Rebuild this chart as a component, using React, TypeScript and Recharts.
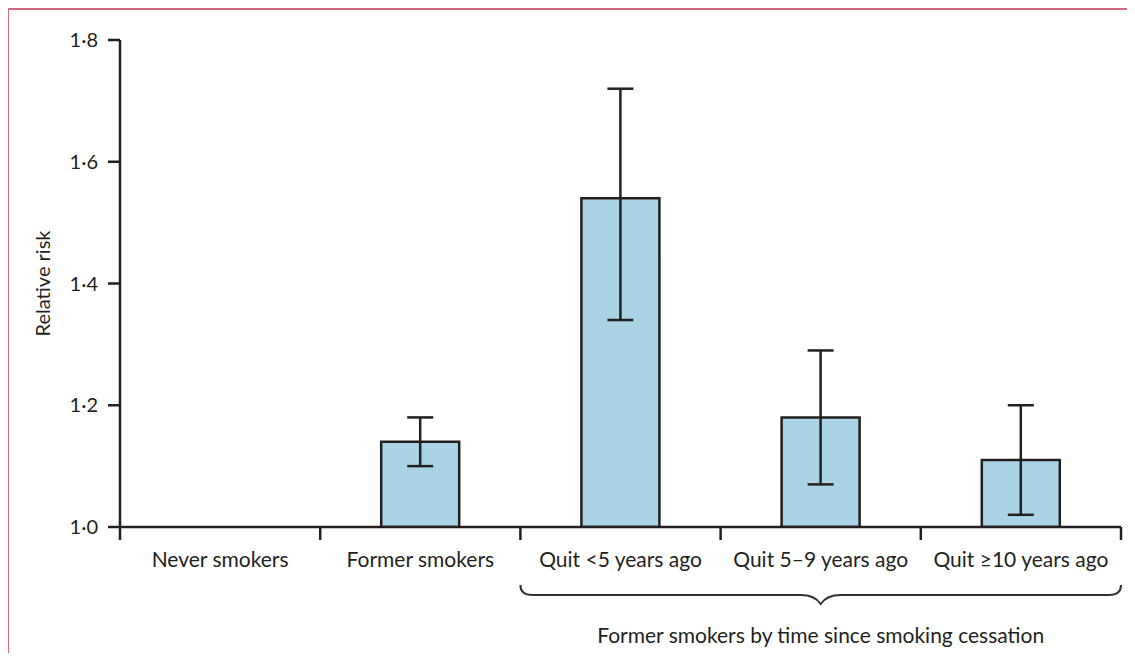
import {
  ComposedChart,
  Bar,
  ErrorBar,
  XAxis,
  YAxis,
  Label,
  ReferenceArea,
} from "recharts";

const categories = [
  "Never smokers",
  "Former smokers",
  "Quit <5 years ago",
  "Quit 5–9 years ago",
  "Quit ≥10 years ago",
];
const relativeRisk = [1.0, 1.14, 1.54, 1.18, 1.11];
const ciLow = [null, 1.1, 1.34, 1.07, 1.02];
const ciHigh = [null, 1.18, 1.72, 1.29, 1.2];
const yTicks = [1.0, 1.2, 1.4, 1.6, 1.8];
const groupLabel = "Former smokers by time since smoking cessation";

const data = categories.map((name, i) => ({
  name,
  rr: relativeRisk[i],
  ci:
    ciLow[i] == null
      ? null
      : [relativeRisk[i] - (ciLow[i] as number), (ciHigh[i] as number) - relativeRisk[i]],
}));

const W = 1135;
const H = 661;
const MARGIN = { top: 40, right: 14, bottom: 104, left: 40 };
const Y_AXIS_W = 80;
const BAND = (W - MARGIN.left - Y_AXIS_W - MARGIN.right) / categories.length;
const TICK_SIZE = 13;
const TICK_MARGIN = 9;
const INK = "#231f20";
const FONT = "Lato, 'Open Sans', sans-serif";
const FONT_SIZE = 21;

const fmt = (v: number) => v.toFixed(1).replace(".", "·");

// category label plus the boundary ticks between groups
function CategoryTick(props: any) {
  const { x, y, payload, index } = props;
  const axisY = y - TICK_SIZE - TICK_MARGIN;
  const left = x - BAND / 2;
  const right = x + BAND / 2;
  return (
    <g>
      <line x1={left} x2={left} y1={axisY} y2={axisY + TICK_SIZE} stroke={INK} strokeWidth={2.5} />
      {index === categories.length - 1 && (
        <line x1={right} x2={right} y1={axisY} y2={axisY + TICK_SIZE} stroke={INK} strokeWidth={2.5} />
      )}
      <text x={x} y={y + 18} textAnchor="middle" fill={INK} fontSize={FONT_SIZE} fontFamily={FONT}>
        {payload.value}
      </text>
    </g>
  );
}

// curly brace under the "quit" groups
function Brace(props: any) {
  const { x, y, width, height } = props;
  const bottom = y + height;
  const x1 = x;
  const x2 = x + width;
  const mid = x + width / 2;
  const top = bottom + 58;
  const line = bottom + 68;
  const tip = bottom + 77;
  const d = [
    `M ${x1} ${top}`,
    `Q ${x1} ${line} ${x1 + 12} ${line}`,
    `L ${mid - 20} ${line}`,
    `Q ${mid - 6} ${line} ${mid} ${tip}`,
    `Q ${mid + 6} ${line} ${mid + 20} ${line}`,
    `L ${x2 - 12} ${line}`,
    `Q ${x2} ${line} ${x2} ${top}`,
  ].join(" ");
  return (
    <g>
      <path d={d} fill="none" stroke="#333" strokeWidth={2} />
      <text x={mid} y={bottom + 116} textAnchor="middle" fill={INK} fontSize={FONT_SIZE} fontFamily={FONT}>
        {groupLabel}
      </text>
    </g>
  );
}

export default function App() {
  return (
    <div style={{ position: "relative", width: W, height: H, margin: -8, background: "#fff" }}>
      <div
        style={{
          position: "absolute",
          left: 7,
          top: 8,
          width: W - 7,
          height: H - 8,
          borderTop: "2px solid #d0677f",
          borderLeft: "2px solid #d0677f",
          boxSizing: "border-box",
        }}
      />
      <div style={{ position: "absolute", left: 0, top: 0 }}>
        <ComposedChart width={W} height={H} data={data} margin={MARGIN} barCategoryGap={0}>
          <XAxis
            dataKey="name"
            type="category"
            axisLine={{ stroke: INK, strokeWidth: 2.5 }}
            tickLine={{ stroke: "none" }}
            tickSize={TICK_SIZE}
            tickMargin={TICK_MARGIN}
            interval={0}
            tick={<CategoryTick />}
            height={30}
          />
          <YAxis
            type="number"
            domain={[1, 1.8]}
            ticks={yTicks}
            allowDataOverflow
            width={Y_AXIS_W}
            tickFormatter={fmt}
            axisLine={{ stroke: INK, strokeWidth: 2.5 }}
            tickLine={{ stroke: INK, strokeWidth: 2.5 }}
            tickSize={12}
            tickMargin={10}
            tick={{ fill: INK, fontSize: 20, fontFamily: FONT }}
          >
            <Label
              value="Relative risk"
              angle={-90}
              position="insideLeft"
              offset={3}
              style={{ fill: INK, fontSize: 20, fontFamily: FONT, textAnchor: "middle" }}
            />
          </YAxis>
          <ReferenceArea
            x1={categories[2]}
            x2={categories[4]}
            ifOverflow="visible"
            shape={<Brace />}
          />
          <Bar
            dataKey="rr"
            barSize={78}
            fill="#a8d4e6"
            stroke={INK}
            strokeWidth={2.5}
            isAnimationActive={false}
          >
            <ErrorBar dataKey="ci" width={13} stroke={INK} strokeWidth={2.5} direction="y" />
          </Bar>
        </ComposedChart>
      </div>
    </div>
  );
}
